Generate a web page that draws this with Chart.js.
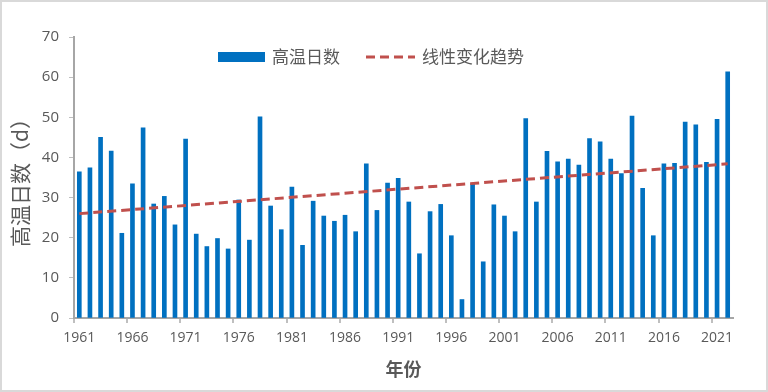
<!DOCTYPE html>
<html>
<head>
<meta charset="utf-8">
<script src="https://cdn.jsdelivr.net/npm/chart.js@4"></script>
<style>
  html, body { margin: 0; padding: 0; background: #fff; }
  .wrap {
    position: relative;
    width: 768px;
    height: 392px;
    box-shadow: inset 0 0 0 2px #d9d9d9;
  }
  canvas { position: absolute; left: 0; top: 0; }
</style>
</head>
<body>
<div class="wrap">
  <canvas id="hotDaysChart" width="768" height="392"></canvas>
</div>

<script>
// ===============================
// Data
// ===============================

const years = [];
for (let y = 1961; y <= 2022; y++) years.push(String(y));

// 高温日数 (d)
const hotDays = [
    36.4, 37.4, 45.0, 41.6, 21.1, 33.4, 47.4, 28.4, 30.3, 23.2,
    44.6, 20.9, 17.8, 19.8, 17.2, 29.4, 19.4, 50.1, 27.9, 22.0,
    32.6, 18.1, 29.1, 25.4, 24.1, 25.6, 21.5, 38.4, 26.8, 33.6,
    34.8, 28.9, 16.0, 26.5, 28.3, 20.5, 4.6, 33.4, 14.0, 28.2,
    25.4, 21.5, 49.7, 28.9, 41.5, 38.9, 39.6, 38.1, 44.7, 43.9,
    39.6, 36.0, 50.3, 32.3, 20.5, 38.4, 38.5, 48.8, 48.1, 38.8,
    49.5, 61.3
];

// linear trend: start and end values, straight line between them
const trendEnds = [26.0, 38.4];
const trend = years.map((y, i) => {
    if (i === 0) return trendEnds[0];
    if (i === years.length - 1) return trendEnds[1];
    return null;
});

const yTicks = [0, 10, 20, 30, 40, 50, 60, 70];
const labelEvery = 5;

const barColor = "#0070c0";
const trendColor = "#c0504d";
const textGray = "#595959";
const axisGray = "#a6a6a6";
const cjkFont = "'Noto Sans CJK SC', 'Noto Sans', sans-serif";
const numFont = "'Open Sans', 'Noto Sans', sans-serif";

// ===============================
// Legend drawn inside the plot
// ===============================

const inlineLegend = {
    id: "inlineLegend",
    afterDatasetsDraw(chart) {
        const ctx = chart.ctx;
        const area = chart.chartArea;
        const y = area.top + 20;
        let x = area.left + 144;

        ctx.save();
        ctx.font = "17px " + cjkFont;
        ctx.textBaseline = "middle";

        // bar item
        ctx.fillStyle = barColor;
        ctx.fillRect(x, y - 5, 47, 10);
        x += 54;
        ctx.fillStyle = textGray;
        ctx.fillText(chart.data.datasets[0].label, x, y);
        x += ctx.measureText(chart.data.datasets[0].label).width + 26;

        // line item
        ctx.strokeStyle = trendColor;
        ctx.lineWidth = 3;
        ctx.setLineDash([9, 5]);
        ctx.beginPath();
        ctx.moveTo(x, y);
        ctx.lineTo(x + 49, y);
        ctx.stroke();
        ctx.setLineDash([]);
        x += 56;
        ctx.fillText(chart.data.datasets[1].label, x, y);

        ctx.restore();
    }
};

// ===============================
// Chart
// ===============================

const hotDaysChart = document.getElementById("hotDaysChart");

if (hotDaysChart) {
    new Chart(hotDaysChart, {
        type: "bar",
        data: {
            labels: years,
            datasets: [
                {
                    label: "高温日数",
                    data: hotDays,
                    backgroundColor: barColor,
                    barThickness: 4,
                    order: 2
                },
                {
                    type: "line",
                    label: "线性变化趋势",
                    data: trend,
                    spanGaps: true,
                    borderColor: trendColor,
                    borderWidth: 3,
                    borderDash: [9, 5],
                    pointRadius: 0,
                    fill: false,
                    order: 1
                }
            ]
        },
        options: {
            responsive: false,
            animation: false,
            layout: {
                padding: { left: 0, right: 35, top: 37, bottom: 0 }
            },
            plugins: {
                legend: { display: false },
                tooltip: { enabled: false }
            },
            scales: {
                x: {
                    offset: true,
                    afterFit: scale => { scale.height = 74; },
                    border: { color: axisGray, width: 2 },
                    grid: {
                        offset: true,
                        drawOnChartArea: false,
                        tickLength: 5,
                        lineWidth: 2,
                        color: ctx => (ctx.index % labelEvery === 0 ? "#bfbfbf" : "rgba(0,0,0,0)")
                    },
                    ticks: {
                        autoSkip: false,
                        maxRotation: 0,
                        padding: 7,
                        color: textGray,
                        font: { family: numFont, size: 14 },
                        callback: (v, i) => (i % labelEvery === 0 ? years[i] : "")
                    },
                    title: {
                        display: true,
                        text: "年份",
                        color: textGray,
                        font: { family: cjkFont, size: 18, weight: "bold" },
                        padding: { top: 0, bottom: 12 }
                    }
                },
                y: {
                    min: yTicks[0],
                    max: yTicks[yTicks.length - 1],
                    afterFit: scale => { scale.width = 74; },
                    afterBuildTicks: scale => {
                        scale.ticks = yTicks.map(v => ({ value: v }));
                    },
                    border: { color: axisGray, width: 2 },
                    grid: {
                        drawOnChartArea: false,
                        tickLength: 5,
                        color: "#bfbfbf"
                    },
                    ticks: {
                        padding: 10,
                        color: textGray,
                        font: { family: numFont, size: 15 }
                    },
                    title: {
                        display: true,
                        text: "高温日数（d）",
                        color: textGray,
                        font: { family: cjkFont, size: 21 },
                        padding: { top: 7, bottom: 0 }
                    }
                }
            }
        },
        plugins: [inlineLegend]
    });
}
</script>
</body>
</html>
